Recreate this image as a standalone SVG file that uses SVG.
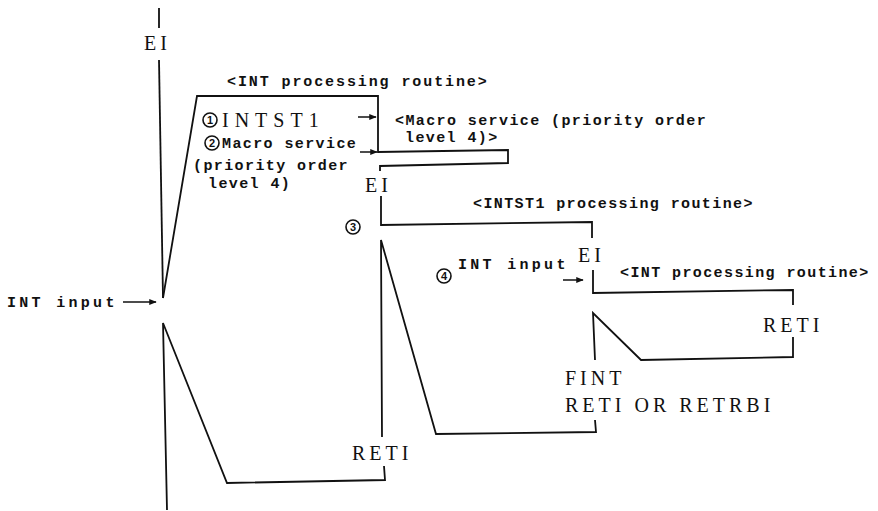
<svg xmlns="http://www.w3.org/2000/svg" width="878" height="511" viewBox="0 0 878 511">
<style>
.ln{fill:none;stroke:#111;stroke-width:1.8;stroke-linejoin:miter;stroke-linecap:butt}
.ar{fill:none;stroke:#111;stroke-width:1.5}
.cap{font-family:"Liberation Serif",serif;font-size:20px;letter-spacing:4px;fill:#111}
.mono{font-family:"Liberation Mono",monospace;font-size:15px;font-weight:bold;letter-spacing:1.4px;fill:#111}
.big{font-family:"Liberation Mono",monospace;font-size:15px;font-weight:bold;letter-spacing:3.3px;fill:#111}
.circ{fill:#fff;stroke:#111;stroke-width:1.6}
.dg{font-family:"Liberation Sans",sans-serif;font-size:11px;font-weight:bold;text-anchor:middle;fill:#111}
</style>
<defs>
<marker id="ah" viewBox="0 0 10 10" refX="9" refY="5" markerWidth="5" markerHeight="5" orient="auto" markerUnits="strokeWidth">
<path d="M0,1 L10,5 L0,9 Z" fill="#111"/>
</marker>
</defs>
<rect width="878" height="511" fill="#fff"/>
<g id="connectors">
<path class="ln" d="M159,8 L159,28"/>
<path class="ln" d="M159,60 L163,298"/>
<path class="ln" d="M163,298 L197,96 L378,96 L378,152 L508,150 L508,163 L380,166 L380,171"/>
<path class="ln" d="M381,196 L381,225 L592,222 L592,238"/>
<path class="ln" d="M593,270 L593,293 L793,290 L793,305"/>
<path class="ln" d="M793,337 L793,357 L641,360 L593,313 L595,360"/>
<path class="ln" d="M595,420 L596,432 L436,434 L381,240 L382,437"/>
<path class="ln" d="M384,466 L385,480 L227,483 L163,323 L167,510"/>
<line class="ar" x1="123" y1="302" x2="156" y2="302" marker-end="url(#ah)"/>
<line class="ar" x1="358" y1="117" x2="376" y2="117" marker-end="url(#ah)"/>
<line class="ar" x1="360" y1="152" x2="377" y2="152" marker-end="url(#ah)"/>
<line class="ar" x1="563" y1="280" x2="583" y2="280" marker-end="url(#ah)"/>
</g>
<g id="ei-top"><text class="cap" x="144" y="50">EI</text></g>
<g id="int-routine-label"><text class="mono" style="letter-spacing:1.9px" x="227" y="86">&lt;INT processing routine&gt;</text></g>
<g id="step1">
<circle class="circ" cx="210" cy="120" r="7"/>
<text class="dg" x="210" y="124">1</text>
<text class="cap" style="letter-spacing:6px" x="222" y="127">INTST1</text>
</g>
<g id="step2">
<circle class="circ" cx="212" cy="143" r="7"/>
<text class="dg" x="212" y="147">2</text>
<text class="mono" x="222" y="148">Macro service</text>
<text class="mono" x="193" y="170">(priority order</text>
<text class="mono" x="208" y="188">level 4)</text>
</g>
<g id="macro-label">
<text class="mono" x="395" y="125">&lt;Macro service (priority order</text>
<text class="mono" x="405" y="142">level 4)&gt;</text>
</g>
<g id="ei-2"><text class="cap" x="365" y="192">EI</text></g>
<g id="step3">
<circle class="circ" cx="353" cy="227" r="7"/>
<text class="dg" x="353" y="231">3</text>
</g>
<g id="intst1-label"><text class="mono" x="473" y="208">&lt;INTST1 processing routine&gt;</text></g>
<g id="ei-3"><text class="cap" x="578" y="262">EI</text></g>
<g id="step4">
<circle class="circ" cx="444" cy="276" r="7"/>
<text class="dg" x="444" y="280">4</text>
<text class="big" x="458" y="269">INT input</text>
</g>
<g id="int-routine-label-2"><text class="mono" x="620" y="277">&lt;INT processing routine&gt;</text></g>
<g id="reti-right"><text class="cap" x="763" y="332">RETI</text></g>
<g id="fint">
<text class="cap" x="565" y="385">FINT</text>
<text class="cap" x="565" y="412">RETI OR RETRBI</text>
</g>
<g id="reti-mid"><text class="cap" x="352" y="460">RETI</text></g>
<g id="int-input"><text class="big" x="7" y="307">INT input</text></g>
</svg>
